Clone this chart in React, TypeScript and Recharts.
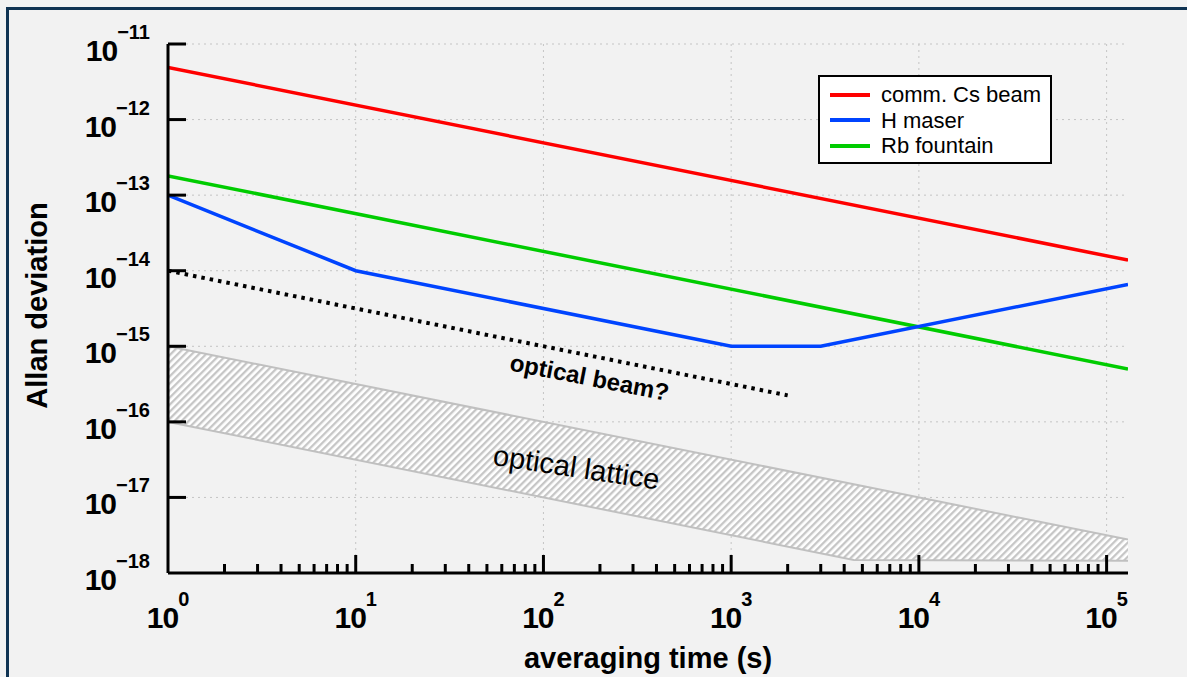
import React from 'react';
import {
  ComposedChart,
  Line,
  Area,
  XAxis,
  YAxis,
  CartesianGrid,
  ReferenceDot,
  Label,
} from 'recharts';

// averaging time (s) and Allan deviation
const csTau = [1, 1.3e5];
const csSigma = [4.9e-12, 1.38e-14];

const hTau = [1, 10, 1000, 3000, 1.3e5];
const hSigma = [1e-13, 1e-14, 1e-15, 1e-15, 6.6e-15];

const rbTau = [1, 1.3e5];
const rbSigma = [1.8e-13, 5e-16];

const beamTau = [1, 2000];
const beamSigma = [1e-14, 2.24e-16];

const latticeTau = [1, 4500, 1.3e5];
const latticeHigh = [1e-15, 1.49e-17, 2.77e-18];
const latticeLow = [1e-16, 1.49e-18, 1.45e-18];

const X_MAJOR = [1, 10, 100, 1000, 10000, 100000];
const X_MINOR_STEPS = [2, 3, 4, 5, 6, 7, 8, 9];
const Y_MAJOR = [1e-18, 1e-17, 1e-16, 1e-15, 1e-14, 1e-13, 1e-12, 1e-11];

const LEGEND = [
  { name: 'comm. Cs beam', color: '#ff0000' },
  { name: 'H maser', color: '#0044ff' },
  { name: 'Rb fountain', color: '#00cc00' },
];

const FONT = '"Liberation Sans", Arial, sans-serif';

const toPoints = (tau: number[], sigma: number[]) =>
  tau.map((t, i) => ({ tau: t, sigma: sigma[i] }));

const csData = toPoints(csTau, csSigma);
const hData = toPoints(hTau, hSigma);
const rbData = toPoints(rbTau, rbSigma);
const beamData = toPoints(beamTau, beamSigma);
const latticeData = latticeTau.map((t, i) => ({ tau: t, band: [latticeLow[i], latticeHigh[i]] }));

const xTicks = [
  ...X_MAJOR,
  ...X_MAJOR.flatMap(d => X_MINOR_STEPS.map(s => s * d)).filter(v => v <= 1.3e5),
].sort((a, b) => a - b);

const XTick = (props: any) => {
  const { x, y, payload } = props;
  const v = payload.value;
  const e = Math.log10(v);
  const major = Math.abs(e - Math.round(e)) < 1e-6;
  return (
    <g>
      {v > 1 && (
        <line x1={x} x2={x} y1={y} y2={y - (major ? 18 : 9)} stroke="#000" strokeWidth={3} />
      )}
      {major && (
        <text x={x} y={y + 55} textAnchor="middle" fontFamily={FONT} fontSize={30} letterSpacing={-1} fontWeight="bold" fill="#000">
          10
          <tspan dy={-22} fontSize={20} letterSpacing={0}>{Math.round(e)}</tspan>
        </text>
      )}
    </g>
  );
};

const YTick = (props: any) => {
  const { x, y, payload } = props;
  const e = Math.round(Math.log10(payload.value));
  return (
    <g>
      {e > -18 && <line x1={x} x2={x + 18} y1={y} y2={y} stroke="#000" strokeWidth={3} />}
      <text x={x - 18} y={y + 17} textAnchor="end" fontFamily={FONT} fontSize={30} letterSpacing={-1} fontWeight="bold" fill="#000">
        10
        <tspan dy={-22} fontSize={20} letterSpacing={0}>{'\u2212' + -e}</tspan>
      </text>
    </g>
  );
};

const note = (text: string, angle: number, size: number, weight: string) => (p: any) => (
  <text
    x={p.cx}
    y={p.cy}
    transform={`rotate(${angle} ${p.cx} ${p.cy})`}
    textAnchor="middle"
    dominantBaseline="central"
    fontFamily={FONT}
    fontSize={size}
    fontWeight={weight}
    fill="#000"
  >
    {text}
  </text>
);

export default function App() {
  return (
    <div style={{ position: 'fixed', left: 0, top: 0, width: 1187, height: 677, background: '#f2f2f2', overflow: 'hidden' }}>
      <div
        style={{
          position: 'absolute',
          left: 6,
          top: 7,
          width: 1181,
          height: 670,
          borderTop: '3px solid #0f3352',
          borderLeft: '3px solid #0f3352',
        }}
      />
      <div style={{ position: 'absolute', left: 0, top: 0 }}>
        <ComposedChart width={1187} height={677} margin={{ top: 44, right: 59, bottom: 0, left: 0 }}>
          <defs>
            <pattern id="hatch" patternUnits="userSpaceOnUse" width={5} height={5} patternTransform="rotate(45)">
              <rect width={5} height={5} fill="#ffffff" />
              <rect width={2.3} height={5} fill="#c6c6c6" />
            </pattern>
          </defs>
          <CartesianGrid
            stroke="#c4c4c4"
            strokeDasharray="2 4"
            verticalValues={X_MAJOR}
            horizontalValues={Y_MAJOR}
          />
          <XAxis
            dataKey="tau"
            type="number"
            scale="log"
            domain={[1, 1.3e5]}
            allowDataOverflow
            ticks={xTicks}
            interval={0}
            height={104}
            tickSize={0}
            tickMargin={0}
            tickLine={false}
            tick={<XTick />}
            axisLine={{ stroke: '#000', strokeWidth: 3 }}
          >
            <Label
              content={(p: any) => (
                <text
                  x={p.viewBox.x + p.viewBox.width / 2}
                  y={668}
                  textAnchor="middle"
                  fontFamily={FONT}
                  fontSize={29}
                  fontWeight="bold"
                  fill="#000"
                >
                  averaging time (s)
                </text>
              )}
            />
          </XAxis>
          <YAxis
            type="number"
            scale="log"
            domain={[1e-18, 1e-11]}
            allowDataOverflow
            ticks={Y_MAJOR}
            interval={0}
            width={168}
            tickSize={0}
            tickMargin={0}
            tickLine={false}
            tick={<YTick />}
            axisLine={{ stroke: '#000', strokeWidth: 3 }}
          >
            <Label
              content={(p: any) => {
                const cx = 37;
                const cy = p.viewBox.y + p.viewBox.height / 2 - 3;
                return (
                  <text
                    x={cx}
                    y={cy}
                    transform={`rotate(-90 ${cx} ${cy})`}
                    textAnchor="middle"
                    dominantBaseline="central"
                    fontFamily={FONT}
                    fontSize={29}
                    fontWeight="bold"
                    fill="#000"
                  >
                    Allan deviation
                  </text>
                );
              }}
            />
          </YAxis>
          <Area
            data={latticeData}
            dataKey="band"
            type="linear"
            fill="url(#hatch)"
            fillOpacity={1}
            stroke="#c0c0c0"
            strokeWidth={2}
            isAnimationActive={false}
          />
          <Line data={beamData} dataKey="sigma" type="linear" stroke="#000" strokeWidth={4} strokeDasharray="3.5 5" dot={false} isAnimationActive={false} />
          <Line data={csData} dataKey="sigma" type="linear" stroke={LEGEND[0].color} strokeWidth={3.5} dot={false} isAnimationActive={false} />
          <Line data={rbData} dataKey="sigma" type="linear" stroke={LEGEND[2].color} strokeWidth={3.5} dot={false} isAnimationActive={false} />
          <Line data={hData} dataKey="sigma" type="linear" stroke={LEGEND[1].color} strokeWidth={3.5} dot={false} isAnimationActive={false} />
          <ReferenceDot x={176} y={3.9e-16} r={0} shape={note('optical beam?', 11, 24, 'bold')} />
          <ReferenceDot x={150} y={2.5e-17} r={0} shape={note('optical lattice', 8.5, 29, 'normal')} />
        </ComposedChart>
      </div>
      <div
        style={{
          position: 'absolute',
          left: 818,
          top: 75,
          width: 230,
          height: 85,
          background: '#fff',
          border: '2px solid #000',
          fontFamily: FONT,
          fontSize: 22,
          color: '#000',
        }}
      >
        {LEGEND.map((item, i) => (
          <div key={item.name} style={{ position: 'absolute', left: 10, top: 5 + i * 25.5, height: 25, display: 'flex', alignItems: 'center' }}>
            <span style={{ display: 'inline-block', width: 40, height: 4, background: item.color, marginRight: 11 }} />
            <span style={{ lineHeight: '25px', whiteSpace: 'nowrap' }}>{item.name}</span>
          </div>
        ))}
      </div>
    </div>
  );
}
